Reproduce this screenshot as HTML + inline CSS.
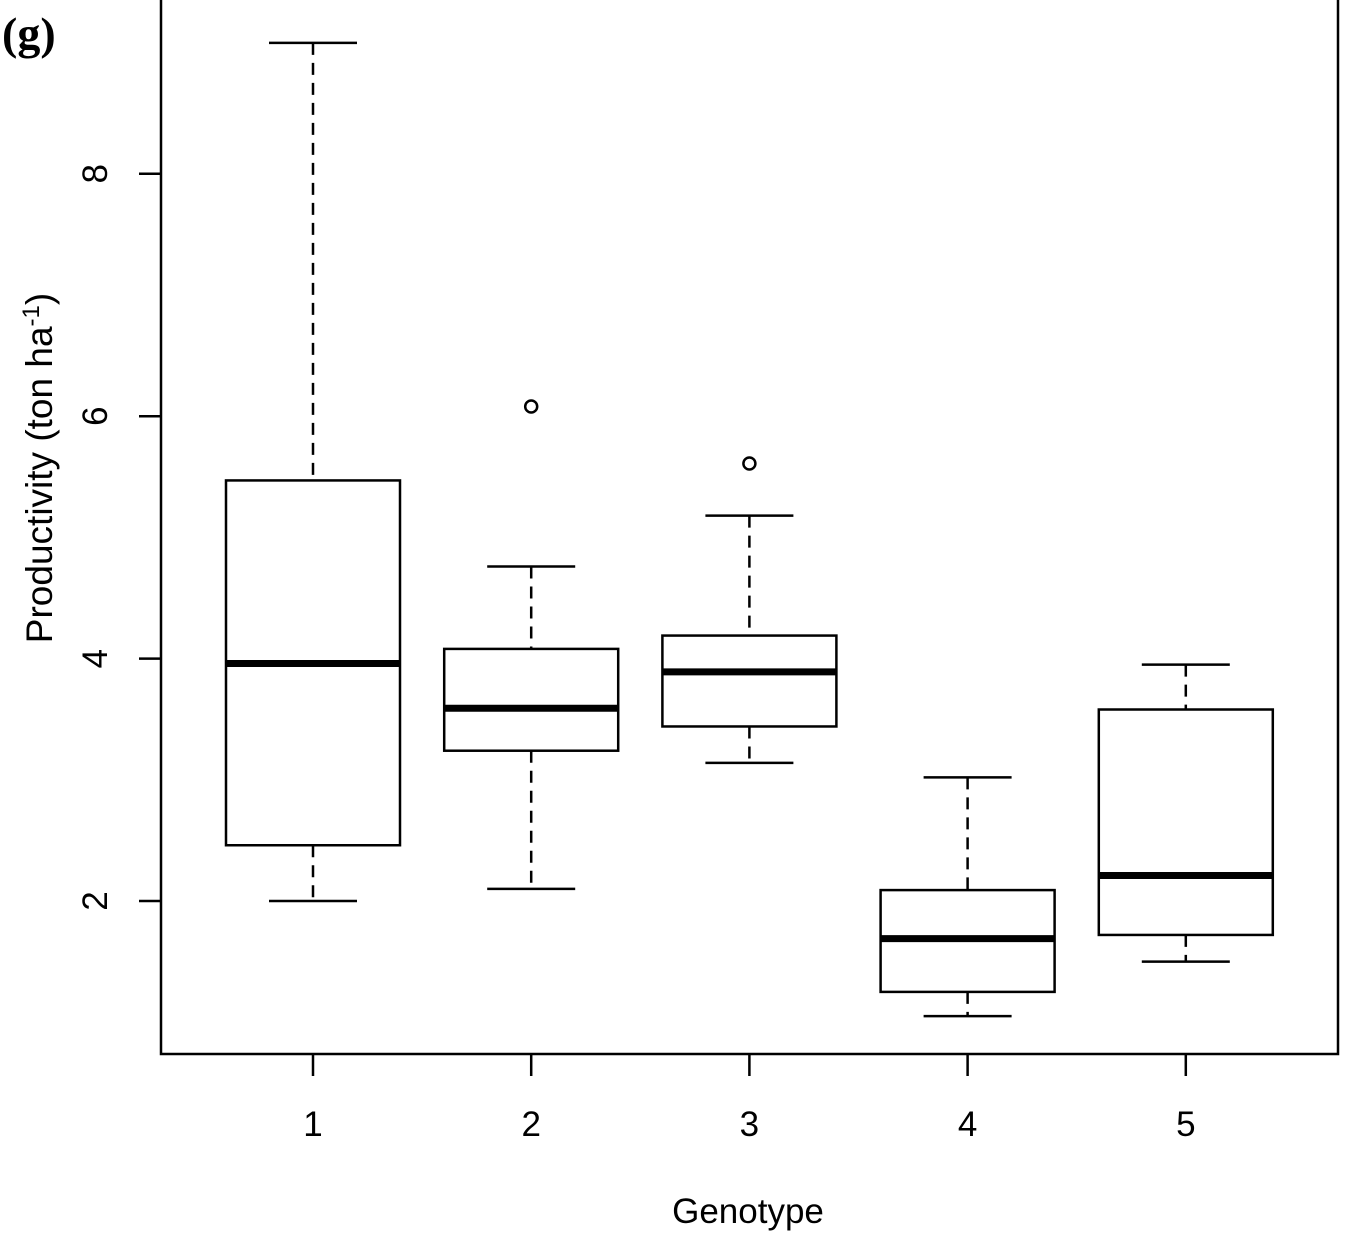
<!DOCTYPE html>
<html><head><meta charset="utf-8"><style>
body{margin:0;background:#fff;}
svg{display:block;}
text{font-family:"Liberation Sans",sans-serif;fill:#000;}
</style></head><body>
<svg id="chart" width="1345" height="1235" viewBox="0 0 1345 1235">
<rect x="161" y="-2" width="1177" height="1056" fill="none" stroke="#000" stroke-width="2.5"/>
<text x="2" y="49" style="font-family:'Liberation Serif',serif;font-weight:bold;font-size:46px">(g)</text>
<g id="marks"></g>
<g id="axes"></g>
<text x="748" y="1223" text-anchor="middle" font-size="35">Genotype</text>
<text transform="translate(52,468) rotate(-90)" text-anchor="middle" font-size="37">Productivity (ton ha<tspan dy="-13" font-size="24">-1</tspan><tspan dy="13">)</tspan></text>
</svg>
<script>
const categories=["1","2","3","4","5"];
const whiskerLow=[2.0,2.10,3.14,1.05,1.50];
const q1=[2.46,3.24,3.44,1.25,1.72];
const medians=[3.96,3.59,3.89,1.69,2.21];
const q3=[5.47,4.08,4.19,2.09,3.58];
const whiskerHigh=[9.08,4.76,5.18,3.02,3.95];
const outliers=[[],[6.08],[5.61],[],[]];
const yTicks=[2,4,6,8];

const NS="http://www.w3.org/2000/svg";
function y(v){return 901-(v-2)*121.2;}
function x(i){return 313+i*218.2;}
function mk(tag,attrs,parent){const e=document.createElementNS(NS,tag);for(const k in attrs)e.setAttribute(k,attrs[k]);parent.appendChild(e);return e;}
const marks=document.getElementById('marks');
const axes=document.getElementById('axes');
const bw=87,cw=44;
categories.forEach((c,i)=>{
  const g=mk('g',{},marks);
  
  
  const cx=x(i);
  mk('line',{x1:cx,x2:cx,y1:y(whiskerHigh[i]),y2:y(q3[i]),stroke:'#000','stroke-width':2.5,'stroke-dasharray':'12,8'},g);
  mk('line',{x1:cx,x2:cx,y1:y(q1[i]),y2:y(whiskerLow[i]),stroke:'#000','stroke-width':2.5,'stroke-dasharray':'12,8'},g);
  mk('line',{x1:cx-cw,x2:cx+cw,y1:y(whiskerHigh[i]),y2:y(whiskerHigh[i]),stroke:'#000','stroke-width':2.5},g);
  mk('line',{x1:cx-cw,x2:cx+cw,y1:y(whiskerLow[i]),y2:y(whiskerLow[i]),stroke:'#000','stroke-width':2.5},g);
  mk('rect',{x:cx-bw,y:y(q3[i]),width:2*bw,height:y(q1[i])-y(q3[i]),fill:'#fff',stroke:'#000','stroke-width':2.5},g);
  mk('line',{x1:cx-bw,x2:cx+bw,y1:y(medians[i]),y2:y(medians[i]),stroke:'#000','stroke-width':7},g);
  outliers[i].forEach(o=>{
    const p=mk('circle',{cx:cx,cy:y(o),r:6,fill:'none',stroke:'#000','stroke-width':2.5},g);
    
    
  });
  mk('line',{x1:cx,x2:cx,y1:1054,y2:1076,stroke:'#000','stroke-width':2.5},axes);
  const t=mk('text',{x:cx,y:1136,'text-anchor':'middle','font-size':35},axes);
  t.textContent=c;
  
  
});
yTicks.forEach(v=>{
  mk('line',{x1:139,x2:161,y1:y(v),y2:y(v),stroke:'#000','stroke-width':2.5},axes);
  const t=mk('text',{transform:`translate(107,${y(v)}) rotate(-90)`,'text-anchor':'middle','font-size':35},axes);
  t.textContent=v;
  
  
});
</script>
</body></html>
